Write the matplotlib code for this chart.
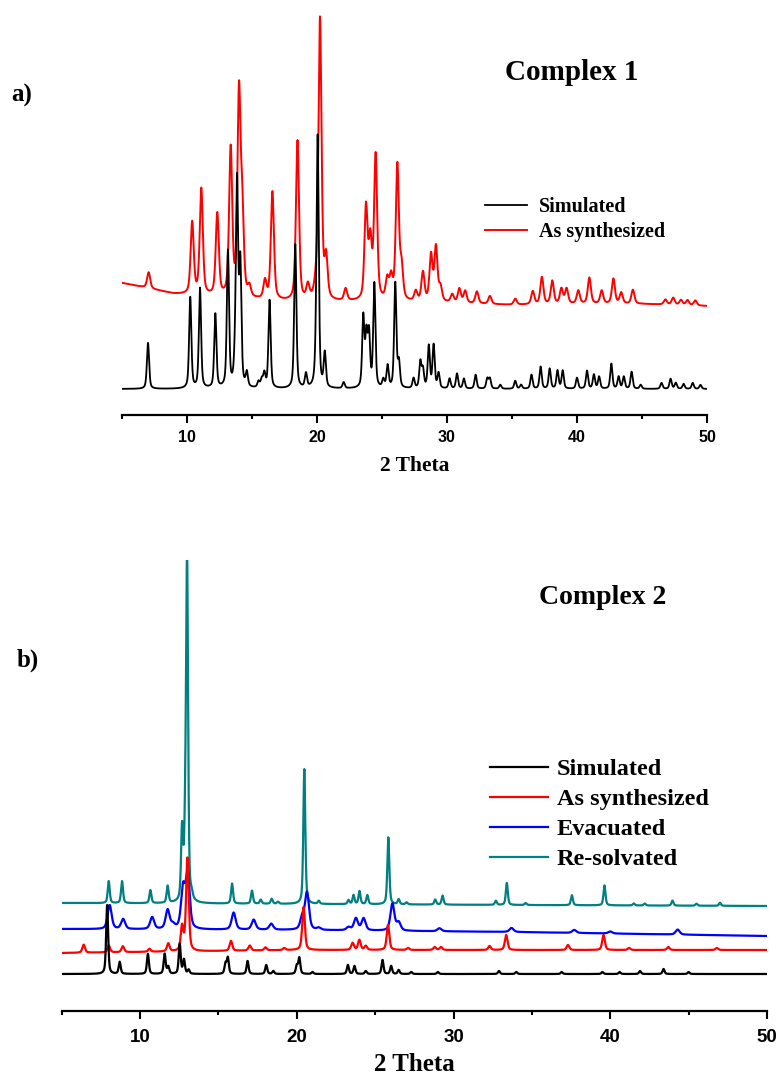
import numpy as np
import matplotlib
matplotlib.use("Agg")
import matplotlib.pyplot as plt

# ---- Complex 1: peak lists (2-theta, height) ----
c1_sim_pos = [7.0, 10.25, 11.0, 12.18, 13.15, 13.7, 13.85, 14.1, 14.6, 15.5, 15.75, 15.95,
              16.35, 18.33, 19.15, 19.9, 20.05, 20.6, 22.05, 23.56, 23.8, 24.0, 24.41,
              25.1, 25.43, 26.02, 26.3, 27.43, 27.95, 28.15, 28.6, 28.97, 29.35, 30.2,
              30.77, 31.3, 32.2, 33.1, 33.3, 34.1, 35.25, 35.7, 36.5, 37.2, 37.9, 38.5,
              38.9, 40.0, 40.77, 41.3, 41.7, 42.64, 43.2, 43.6, 44.2, 44.9, 46.5, 47.2,
              47.6, 48.2, 48.9, 49.5]
c1_sim_h = [46, 91, 100, 74, 136, 20, 200, 120, 14, 6, 8, 14,
            88, 144, 14, 10, 251, 34, 6, 70, 50, 52, 104,
            8, 22, 105, 25, 10, 26, 18, 42, 43, 15, 10,
            15, 10, 14, 10, 10, 4, 8, 4, 14, 22, 20, 18,
            18, 11, 18, 14, 12, 25, 12, 12, 17, 4, 6, 10,
            6, 5, 6, 4]

c1_exp_pos = [7.05, 10.4, 11.1, 12.33, 13.36, 14.0, 14.25, 14.8, 16.0, 16.57, 18.5, 19.3,
              19.9, 20.23, 20.7, 22.2, 23.77, 24.1, 24.51, 25.4, 25.7, 26.18, 26.5, 27.6,
              28.15, 28.77, 29.15, 29.5, 30.4, 30.95, 31.4, 32.3, 33.3, 35.25, 36.6, 37.3,
              38.1, 38.8, 39.2, 40.1, 40.95, 41.9, 42.8, 43.4, 44.3, 46.8, 47.4, 48.0,
              48.5, 49.1]
c1_exp_h = [16, 72, 106, 82, 147, 200, 80, 10, 18, 108, 160, 14,
            10, 282, 40, 12, 92, 57, 144, 20, 22, 135, 32, 10,
            29, 46, 54, 14, 8, 14, 12, 12, 8, 6, 13, 27,
            23, 15, 15, 13, 26, 13, 25, 11, 14, 5, 7, 5,
            5, 5]
c1_exp_bg_x = [5, 6.5, 9, 12, 15, 18, 25, 30, 35, 40, 45, 50]
c1_exp_bg_y = [106, 102, 95, 92, 89, 87, 87, 86, 84, 85, 85, 83]

# ---- Complex 2: peak lists ----
c2_sim_pos = [7.9, 8.7, 10.5, 11.57, 11.8, 12.53, 12.8, 13.1, 15.45, 15.6, 16.86, 18.05,
              18.5, 20.0, 20.16, 21.0, 23.26, 23.68, 24.4, 25.47, 26.02, 26.5, 27.3,
              29.0, 32.9, 34.0, 36.9, 39.5, 40.6, 41.9, 43.4, 45.0]
c2_sim_h = [69, 12, 20, 20, 7, 30, 14, 4, 10, 16, 13, 9,
            3, 8, 16, 2, 9, 8, 3, 14, 8, 4, 2,
            2, 3, 2, 2, 2, 2, 3, 5, 2]

c2_syn_pos = [6.4, 8.0, 8.9, 10.6, 11.8, 12.68, 13.02, 15.8, 17.0, 18.0, 19.2, 20.43,
              23.56, 23.99, 24.4, 25.82, 27.1, 28.8, 29.2, 32.3, 33.36, 37.3, 39.57,
              41.2, 43.7, 46.8]
c2_syn_h = [8, 7, 6, 3, 8, 24, 93, 10, 5, 3, 2, 43,
            7, 10, 4, 25, 2, 3, 3, 4, 15, 5, 15,
            2, 3, 2]

c2_evac_pos = [8.06, 8.92, 10.77, 11.76, 12.1, 12.74, 13.04, 15.97, 17.25, 18.37, 20.35,
               20.65, 21.4, 23.3, 23.77, 24.26, 26.1, 26.5, 29.1, 33.7, 37.7, 40.0, 44.3]
c2_evac_h = [24, 10, 12, 19, 4, 40, 54, 17, 10, 6, 12,
             37, 2, 3, 12, 12, 27, 8, 3, 4, 3, 2, 5]

c2_resolv_pos = [8.0, 8.85, 10.66, 11.76, 12.68, 12.88, 13.0, 13.3, 15.87, 17.14, 17.7,
                 18.4, 18.8, 20.48, 21.4, 23.3, 23.62, 24.0, 24.5, 25.84, 26.5, 27.0,
                 28.83, 29.3, 32.7, 33.4, 34.6, 37.55, 39.63, 41.5, 42.2, 43.97, 45.5, 47.0]
c2_resolv_h = [22, 22, 13, 17, 70, 55, 338, 5, 20, 13, 4,
               5, 2, 135, 3, 4, 9, 13, 9, 67, 5, 2,
               5, 9, 4, 22, 2, 10, 20, 2, 2, 5, 2, 3]

# baselines of the stacked patterns
c2_bg_x = [5, 20, 34, 50]
c2_syn_bg = [21, 24, 24, 24]
c2_evac_bg = [45, 44, 42, 38]
c2_resolv_bg = [71, 70, 69, 68]

tt = np.linspace(5, 50, 6000)


def pattern(pos, h, fwhm, eta=0.5):
    # pseudo-Voigt sum for a stick list
    x = tt[:, None]
    p = np.asarray(pos)[None, :]
    hw = fwhm / 2.0
    lor = hw ** 2 / ((x - p) ** 2 + hw ** 2)
    gau = np.exp(-np.log(2) * ((x - p) / hw) ** 2)
    return ((eta * lor + (1 - eta) * gau) * np.asarray(h)[None, :]).sum(axis=1)


serif = "Liberation Serif"
sans = "Liberation Sans"

fig = plt.figure(figsize=(7.77, 10.79), dpi=100)
W, H = 777.0, 1079.0


def style_axis(ax, tick_size, tick_pad, label_size, labelpad):
    for s in ("left", "right", "top"):
        ax.spines[s].set_visible(False)
    ax.spines["bottom"].set_linewidth(1.6)
    ax.set_yticks([])
    ax.set_xlim(5, 50)
    ax.set_xticks([10, 20, 30, 40, 50])
    ax.set_xticks([5, 15, 25, 35, 45], minor=True)
    ax.tick_params(axis="x", which="major", direction="out", length=6, width=1.5, pad=tick_pad)
    ax.tick_params(axis="x", which="minor", direction="out", length=3, width=1.5)
    for lab in ax.get_xticklabels():
        lab.set_fontfamily(sans)
        lab.set_fontweight("bold")
        lab.set_fontsize(tick_size)
    ax.set_xlabel("2 Theta", fontfamily=serif, fontweight="bold",
                  fontsize=label_size, labelpad=labelpad)
    ax.patch.set_visible(False)


# ---- panel a) ----
ax1 = fig.add_axes([122 / W, 1 - 415 / H, (707 - 122) / W, (415 - 10) / H])
y_sim1 = pattern(c1_sim_pos, c1_sim_h, 0.2)
y_exp1 = pattern(c1_exp_pos, c1_exp_h, 0.28) + np.interp(tt, c1_exp_bg_x, c1_exp_bg_y)
ax1.plot(tt, y_sim1, color="black", lw=1.3, label="Simulated", zorder=3)
ax1.plot(tt, y_exp1, color="red", lw=1.4, label="As synthesized", zorder=2)
ax1.set_ylim(-26, 379)
style_axis(ax1, 11.5, 5, 15.5, 8)
ax1.legend(loc="upper left", bbox_to_anchor=(485 / W, 1 - 197 / H),
           bbox_transform=fig.transFigure, frameon=False, borderpad=0,
           borderaxespad=0, handlelength=2.1, handletextpad=0.6, labelspacing=0.25,
           prop={"family": serif, "weight": "bold", "size": 14.5})
fig.text(572 / W, 1 - 72 / H, "Complex 1", ha="center", va="center",
         fontfamily=serif, fontweight="bold", fontsize=21)
fig.text(22 / W, 1 - 95 / H, "a)", ha="center", va="center",
         fontfamily=serif, fontweight="bold", fontsize=18)

# ---- panel b) ----
ax2 = fig.add_axes([61.7 / W, 1 - 1011 / H, (767 - 61.7) / W, (1011 - 560) / H])
y_sim2 = pattern(c2_sim_pos, c2_sim_h, 0.15)
y_syn2 = pattern(c2_syn_pos, c2_syn_h, 0.2) + np.interp(tt, c2_bg_x, c2_syn_bg)
y_evac2 = pattern(c2_evac_pos, c2_evac_h, 0.3) + np.interp(tt, c2_bg_x, c2_evac_bg)
y_resolv2 = pattern(c2_resolv_pos, c2_resolv_h, 0.15) + np.interp(tt, c2_bg_x, c2_resolv_bg)
ax2.plot(tt, y_sim2, color="black", lw=1.6, label="Simulated", zorder=5)
ax2.plot(tt, y_syn2, color="red", lw=1.6, label="As synthesized", zorder=4)
ax2.plot(tt, y_evac2, color="blue", lw=1.6, label="Evacuated", zorder=3)
ax2.plot(tt, y_resolv2, color="#008080", lw=1.6, label="Re-solvated", zorder=2)
ax2.set_ylim(-37, 414)
style_axis(ax2, 13.5, 7, 18, 5)
ax2.legend(loc="upper left", bbox_to_anchor=(490 / W, 1 - 758 / H),
           bbox_transform=fig.transFigure, frameon=False, borderpad=0,
           borderaxespad=0, handlelength=2.4, handletextpad=0.35, labelspacing=0.33,
           prop={"family": serif, "weight": "bold", "size": 17.5})
fig.text(603 / W, 1 - 597 / H, "Complex 2", ha="center", va="center",
         fontfamily=serif, fontweight="bold", fontsize=20)
fig.text(28 / W, 1 - 660 / H, "b)", ha="center", va="center",
         fontfamily=serif, fontweight="bold", fontsize=18)

fig.savefig("out.png", dpi=100)
